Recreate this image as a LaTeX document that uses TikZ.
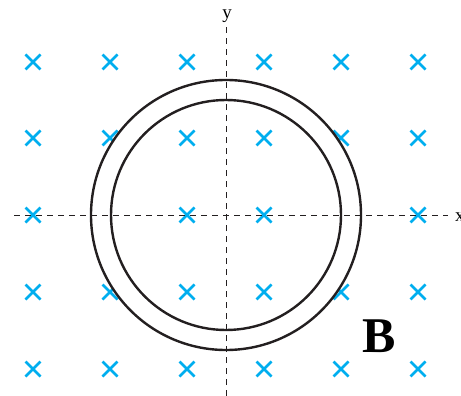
\documentclass[tikz,border=0pt]{standalone}
\usepackage{fontspec}
\setmainfont{Liberation Serif}
\definecolor{field}{HTML}{00AEEF}
\definecolor{ink}{HTML}{231F20}

\begin{document}
\begin{tikzpicture}[x=1pt, y=-1pt,
    cross/.style={field, line width=2.5pt},
    ring/.style={ink, line width=2.4pt},
    axis/.style={ink, line width=0.9pt, dash pattern=on 6pt off 5pt},
    lab/.style={font=\fontsize{19}{19}\selectfont, inner sep=0pt}]
  \useasboundingbox (0,0) rectangle (461,396);

  % field pointing into the page (none on the ring's sides)
  \foreach \cx in {33,110,187,264,341,418}
    \foreach \cy in {62,138,215,292,369} {
      \ifnum\cy=215 \ifnum\cx=110 \else\ifnum\cx=341 \else
        \draw[cross] (\cx-7.5,\cy-7.5) -- (\cx+7.5,\cy+7.5) (\cx-7.5,\cy+7.5) -- (\cx+7.5,\cy-7.5);
      \fi\fi
      \else
        \draw[cross] (\cx-7.5,\cy-7.5) -- (\cx+7.5,\cy+7.5) (\cx-7.5,\cy+7.5) -- (\cx+7.5,\cy-7.5);
      \fi
    }

  % the ring hides the field behind it
  \coordinate (o) at (226,215);
  \fill[white, even odd rule] (o) circle[radius=135] (o) circle[radius=115];
  \draw[ring] (o) circle[radius=135];
  \draw[ring] (o) circle[radius=115];

  % axes
  \coordinate (xl) at (14,215);
  \coordinate (xr) at (448,215);
  \coordinate (yb) at (226,396);
  \coordinate (yt) at (226,24);
  \draw[axis] (xl) -- (xr);
  \draw[axis] (yb) -- (yt);
  \node[lab, anchor=base west] (xlab) at (455,221) {x};
  \node[lab, anchor=base] (ylab) at (227,19) {y};

  \node[font=\fontsize{50}{50}\selectfont\bfseries, inner sep=0pt, anchor=base] (b) at (379,352) {B};
\end{tikzpicture}
\end{document}
